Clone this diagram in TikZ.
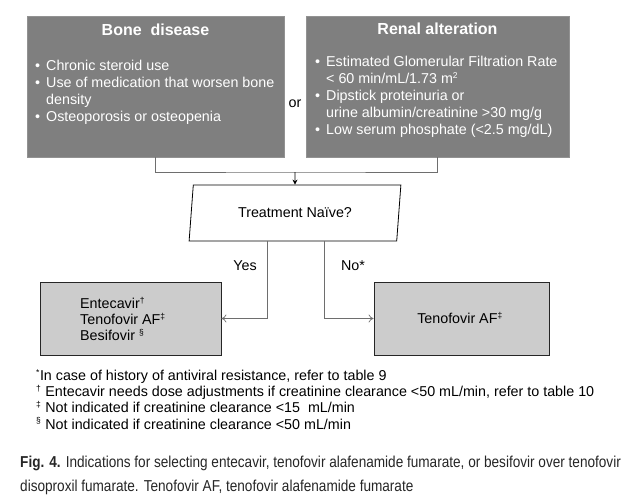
\documentclass[tikz,border=0pt]{standalone}
\usepackage{fontspec}
\setmainfont{Liberation Sans}
\newfontfamily\condfont[FakeStretch=0.86]{Liberation Sans}
\usetikzlibrary{positioning,shapes.geometric,arrows.meta}

\definecolor{boxdark}{RGB}{127,127,127}
\definecolor{boxlight}{RGB}{204,204,204}
\definecolor{linegray}{RGB}{110,110,110}

\newcommand{\bitem}{\makebox[11pt][l]{\textbullet}}
\newcommand{\bskip}{\hspace*{11pt}}
\newcommand{\supmark}[1]{\smash{\textsuperscript{\scalebox{0.85}{#1}}}}

\tikzset{
    darkbox/.style={rectangle, fill=boxdark, draw=boxdark!85!white, line width=0.6pt,
        minimum width=#1, minimum height=141pt, inner sep=0pt},
    lightbox/.style={rectangle, fill=boxlight, draw=black!85, line width=0.8pt,
        minimum height=73pt, inner sep=0pt},
    boxtitle/.style={text=white, font=\fontsize{16}{19}\bfseries\selectfont, inner sep=0pt},
    bullets/.style={text=white, align=left, font=\fontsize{14.3}{17}\selectfont, inner sep=0pt},
    plain/.style={align=left, font=\fontsize{14.3}{16.2}\selectfont, inner sep=0pt},
    link/.style={draw=linegray, line width=0.7pt},
    openarrow/.style={link, -{To[length=5pt,width=8pt]}}
}

\begin{document}
\begin{tikzpicture}[x=1pt, y=-1pt]
    \useasboundingbox (0,0) rectangle (635,503);

    % Top boxes
    \node[darkbox=257pt] (bone) at (155.5, 86.5) {};
    \node[boxtitle, anchor=base] (bonetitle) at (155.5, 36) {Bone\ \ disease};
    \node[bullets, anchor=north west] (bonelist) at (35, 60)
        {\bitem Chronic steroid use\\
         \bitem Use of medication that worsen bone\\
         \bskip density\\
         \bitem Osteoporosis or osteopenia};

    \node[darkbox=263pt] (renal) at (437.5, 86.5) {};
    \node[boxtitle, anchor=base] (renaltitle) at (437.5, 35) {Renal alteration};
    \node[bullets, anchor=north west] (renallist) at (315, 56)
        {\bitem Estimated Glomerular Filtration Rate\\
         \bskip {<} 60 min/mL/1.73 m\supmark{2}\\
         \bitem Dipstick proteinuria or\\
         \bskip urine albumin/creatinine {>}30 mg/g\\
         \bitem Low serum phosphate ({<}2.5 mg/dL)};

    \node[plain] (or) at (295, 104) {or};

    % Decision
    \coordinate (join) at (295, 172);
    \node[trapezium, trapezium left angle=77, trapezium right angle=103,
        trapezium stretches=true, draw, line width=0.8pt,
        minimum width=212pt, minimum height=56pt, inner sep=0pt,
        font=\fontsize{14.3}{17}\selectfont] (naive) at (295, 213) {Treatment Na\"{\i}ve?};

    \draw[link] (bone.south) |- (join) -| (renal.south);
    \draw[line width=0.8pt, -{Stealth[length=5pt,width=5pt]}] (join) -- (naive.north);

    % Outcomes
    \node[lightbox, minimum width=181pt] (treatyes) at (130.5, 318.5) {};
    \node[plain, anchor=north west] (yeslist) at (80, 298)
        {Entecavir\supmark{\dag}\\
         Tenofovir AF\supmark{\ddag}\\
         Besifovir \supmark{\S}};

    \node[lightbox, minimum width=175pt] (treatno) at (461.5, 318.5) {};
    \node[plain] (nolabel) at (460, 318.5) {Tenofovir AF\supmark{\ddag}};

    \draw[openarrow] ([xshift=-28pt]naive.south) |- (treatyes.east);
    \draw[openarrow] ([xshift=29pt]naive.south) |- (treatno.west);

    \node[plain] (yes) at (245, 266) {Yes};
    \node[plain] (no) at (353, 266) {No*};

    % Footnotes
    \node[plain, anchor=north west] (notes) at (36, 370)
        {\supmark{*}In case of history of antiviral resistance, refer to table 9\\
         \supmark{\dag} Entecavir needs dose adjustments if creatinine clearance {<}50 mL/min, refer to table 10\\
         \supmark{\ddag} Not indicated if creatinine clearance {<}15\ \ mL/min\\
         \supmark{\S} Not indicated if creatinine clearance {<}50 mL/min};

    % Caption
    \node[align=left, anchor=north west, inner sep=0pt, text=black!85,
        font=\condfont\fontsize{15.8}{24}\selectfont] (caption) at (20, 456)
        {{\bfseries Fig. 4.} Indications for selecting entecavir, tenofovir alafenamide fumarate, or besifovir over tenofovir\\
         disoproxil fumarate. Tenofovir AF, tenofovir alafenamide fumarate};
\end{tikzpicture}
\end{document}
